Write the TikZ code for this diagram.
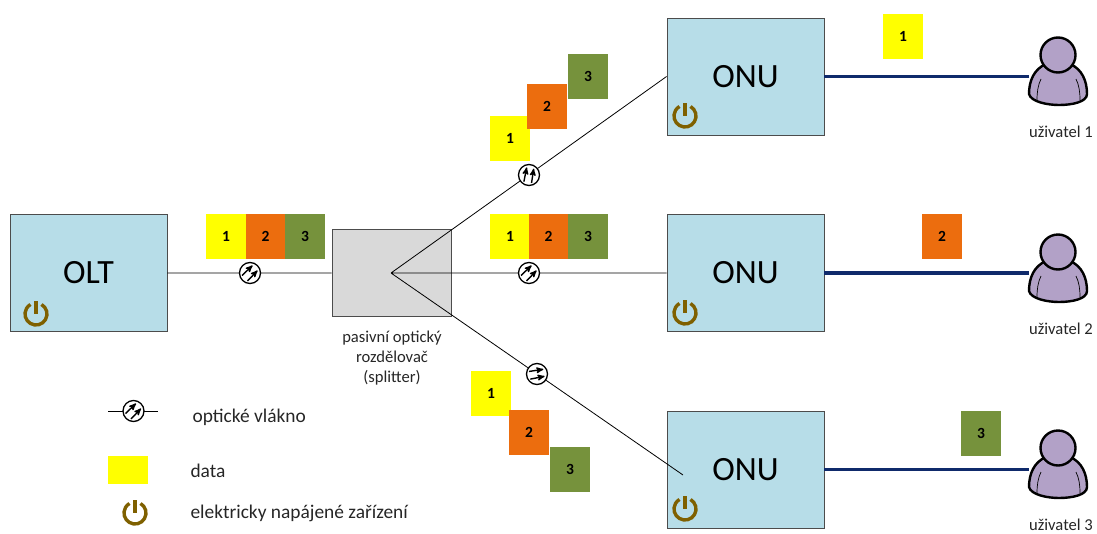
\documentclass[tikz,border=0pt]{standalone}
\usepackage{fontspec}
\setmainfont{Carlito}
\usetikzlibrary{arrows,positioning}
\definecolor{boxblue}{HTML}{B7DDE8}
\definecolor{boxgray}{HTML}{D9D9D9}
\definecolor{dataone}{HTML}{FFFF00}
\definecolor{datatwo}{HTML}{EC6D0E}
\definecolor{datathree}{HTML}{76923C}
\definecolor{powerbrown}{HTML}{7F6000}
\definecolor{navyline}{HTML}{0F2A6B}
\definecolor{userfill}{HTML}{B2A1C7}
\tikzset{
	unit/.style={draw=black!70,line width=0.9pt,fill=boxblue,minimum width=157pt,minimum height=117pt,font=\fontsize{34}{34}\selectfont},
	splitbox/.style={draw=black!70,line width=0.9pt,fill=boxgray,minimum width=119pt,minimum height=87pt},
	databox/.style={minimum width=40pt,minimum height=45pt,inner sep=0pt,font=\fontsize{15.5}{15.5}\selectfont\bfseries},
	fibre/.style={circle,draw=black,line width=1.3pt,fill=white,minimum size=21pt,inner sep=0pt},
	fibreline/.style={draw=black,line width=0.8pt},
	userline/.style={draw=navyline,line width=3.5pt},
	caption/.style={font=\fontsize{16.6}{20}\selectfont,align=center,text=black!85},
	legend/.style={font=\fontsize{19.4}{20}\selectfont,anchor=west,text=black!85},
	power/.pic={
		\draw[powerbrown,line width=3.4pt] (-60:11) arc[start angle=-60,end angle=240,radius=11pt,x radius=11pt,y radius=-11pt];
		\draw[powerbrown,line width=3.4pt] (0,-13) -- (0,0);
	},
	user/.pic={
		\draw[line width=2.4pt,fill=userfill] (-12,9) .. controls (-24,14) and (-29,26) .. (-29,39)
			.. controls (-27,47) and (-10,50) .. (1,50)
			.. controls (14,50) and (29,47) .. (29,39)
			.. controls (29,26) and (24,14) .. (12,9) -- cycle;
		\draw[line width=2.4pt,fill=userfill] (0,0) circle (17.5pt);
		\draw[line width=0.7pt] (-17,24) .. controls (-20,30) and (-21,37) .. (-21,45);
		\draw[line width=0.7pt] (18,24) .. controls (21,30) and (22,37) .. (22,45);
	}
}
\newcommand{\fibresym}[3]{
	\node[fibre] (#1) at (#2) {};
	\begin{scope}[shift={(#1)},rotate=#3,yscale=-1,>=stealth',line width=1.4pt]
		\draw[->] (-2.5,-8) -- (7.5,2.5);
		\draw[->] (-8,-2.5) -- (2.5,7.5);
	\end{scope}
}
\begin{document}
\begin{tikzpicture}[x=1pt,y=-1pt]
	\useasboundingbox (0,0) rectangle (1097,533);

	\node[unit] (olt) at (88.5,273) {OLT};
	\node[unit] (onu1) at (745.5,76.5) {ONU};
	\node[unit] (onu2) at (745.5,273) {ONU};
	\node[unit] (onu3) at (745.5,469.5) {ONU};
	\node[splitbox] (split) at (391.5,273) {};
	\coordinate (tip) at (391,273);
	\coordinate (end3) at (683,475);

	\path[fibreline]
		(olt) -- (split)
		(tip) -- (onu1.west)
		(tip) -- (onu2.west)
		(tip) -- (end3)
		;

	\fibresym{f1}{250,273}{0}
	\fibresym{f2}{529,273}{0}
	\fibresym{f3}{529,175}{35}
	\fibresym{f4}{537,374}{-35}

	\node[caption] (splittext) at (392,358) {pasivní optický\\rozdělovač\\(splitter)};

	% data on the trunk
	\node[databox,fill=dataone] (a1) at (226,236.5) {1};
	\node[databox,fill=datatwo] (a2) at (265.5,236.5) {2};
	\node[databox,fill=datathree] (a3) at (305,236.5) {3};
	% data towards the second unit
	\node[databox,fill=dataone] (b1) at (510,236.5) {1};
	\node[databox,fill=datatwo] (b2) at (548.5,236.5) {2};
	\node[databox,fill=datathree] (b3) at (588,236.5) {3};
	% upper branch
	\node[databox,fill=dataone] (c1) at (510,138.5) {1};
	\node[databox,fill=datatwo] (c2) at (547,106.5) {2};
	\node[databox,fill=datathree] (c3) at (588,76.5) {3};
	% lower branch
	\node[databox,fill=dataone] (d1) at (491,393.5) {1};
	\node[databox,fill=datatwo] (d2) at (529,432.5) {2};
	\node[databox,fill=datathree] (d3) at (570,469.5) {3};
	% user side
	\node[databox,fill=dataone] (e1) at (903,36.5) {1};
	\node[databox,fill=datatwo] (e2) at (942,236.5) {2};
	\node[databox,fill=datathree] (e3) at (981,433) {3};

	\pic at (36,314) {power};
	\pic at (685,116) {power};
	\pic at (685,313) {power};
	\pic at (685,509) {power};

	\coordinate (u1) at (1029,76.5);
	\coordinate (u2) at (1029,273);
	\coordinate (u3) at (1029,469.5);
	\path[userline]
		(onu1.east) -- (u1)
		(onu2.east) -- (u2)
		(onu3.east) -- (u3)
		;
	\pic at (1058,55) {user};
	\pic at (1058,252) {user};
	\pic at (1058,448) {user};
	\node[caption] (t1) at (1061,132) {uživatel 1};
	\node[caption] (t2) at (1061,329) {uživatel 2};
	\node[caption] (t3) at (1061,525) {uživatel 3};

	% legend
	\coordinate (l1) at (108,411);
	\coordinate (l2) at (158,411);
	\draw[fibreline] (l1) -- (l2);
	\fibresym{f5}{133.5,411}{0}
	\node[legend] (tfibre) at (189,417) {optické vlákno};
	\node[fill=dataone,minimum width=40pt,minimum height=28pt,inner sep=0pt] (ldata) at (128,470) {};
	\node[legend] (tdata) at (187,471) {data};
	\pic at (135,513) {power};
	\node[legend] (tpower) at (187,513) {elektricky napájené zařízení};
\end{tikzpicture}
\end{document}
